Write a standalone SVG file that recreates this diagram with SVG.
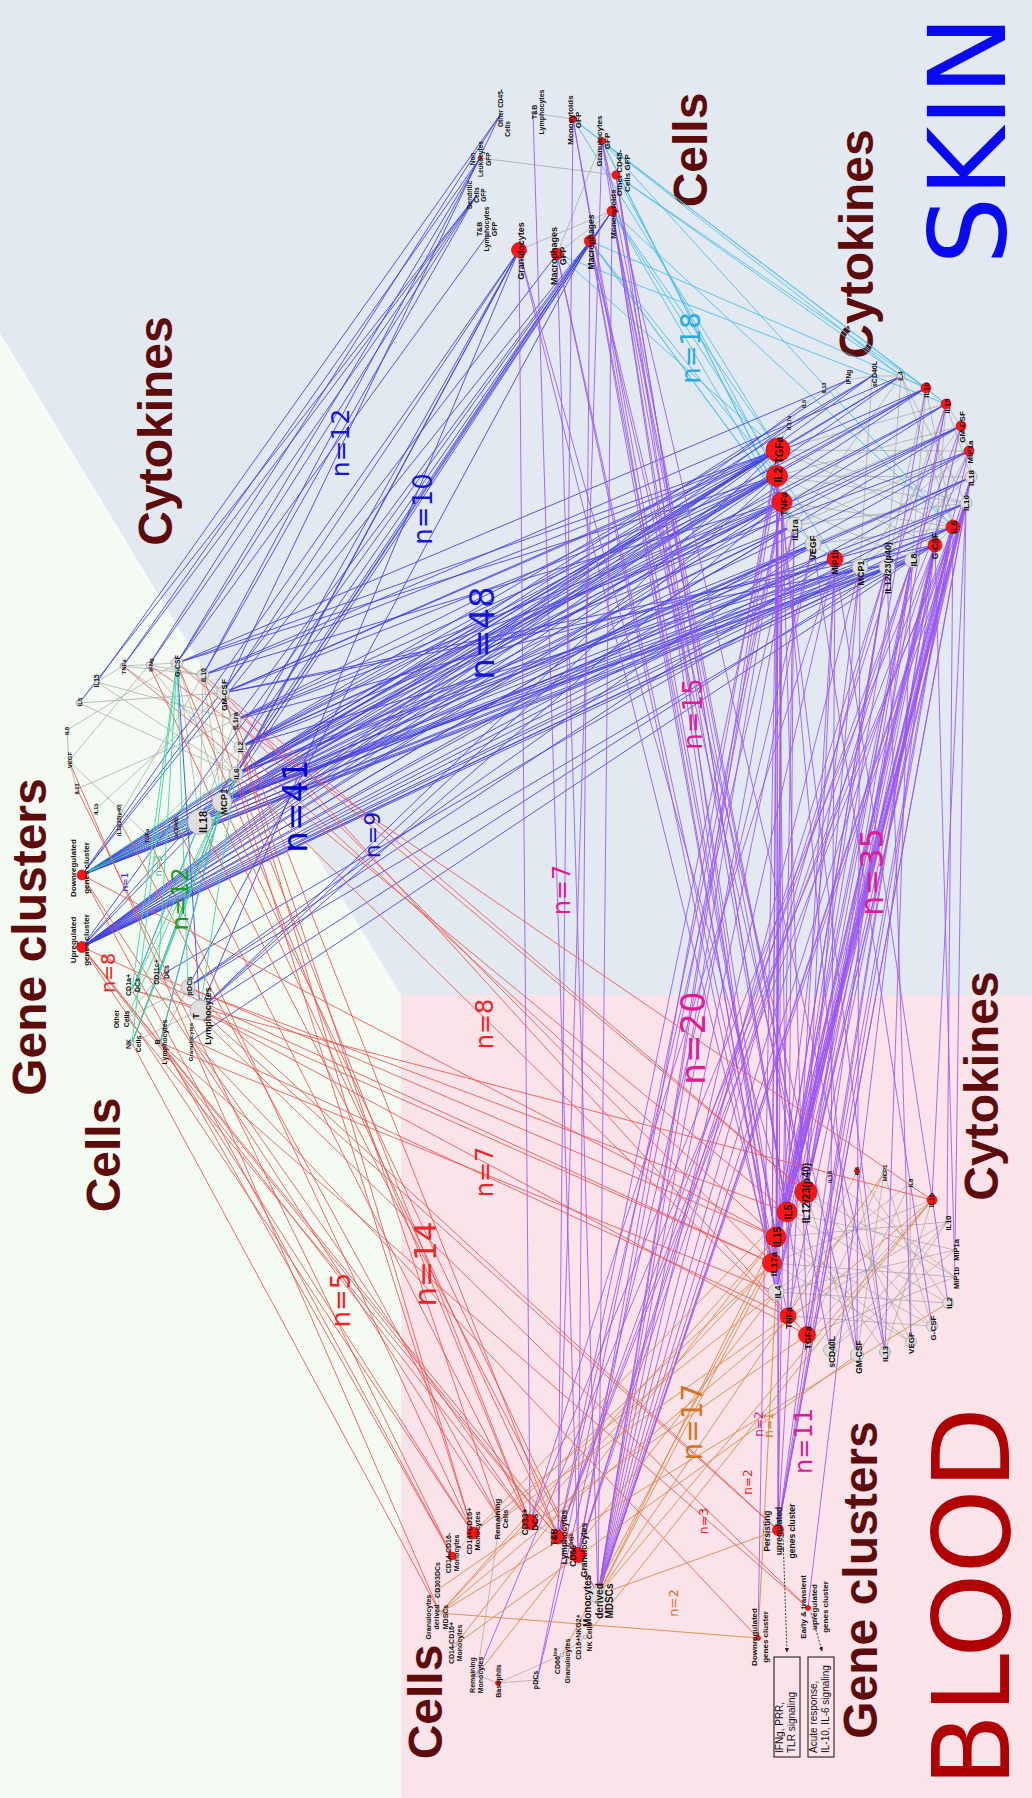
<svg xmlns="http://www.w3.org/2000/svg" width="1032" height="1798" viewBox="0 0 1032 1798">
<style>
.e{fill:none;stroke-width:1;stroke-linecap:round}
.bl{stroke:#4141e4;opacity:.88}
.cy{stroke:#4cc0ea;opacity:.9}
.pu{stroke:#9a55f2;opacity:.85}
.rd{stroke:#f0524e;opacity:.85}
.or{stroke:#d98b4a;opacity:.9}
.gr{stroke:#3fd8a0;opacity:.9}
.gy{stroke:#a6a6a6;stroke-width:.8;opacity:.9}
.rn{fill:#ff1515;stroke:#c00000;stroke-width:.6}
.gn{fill:#dedede;stroke:#999;stroke-width:.7}
text{font-family:"Liberation Sans",Arial,sans-serif}
.t{font-weight:bold;fill:#111;text-anchor:middle}
.ti{font-weight:bold;font-size:48px;fill:#5e0b0b;text-anchor:middle}
.n{font-family:"DejaVu Sans",Verdana,sans-serif;text-anchor:middle}
.nb{fill:#1414dc}.nm{fill:#e31a94}.nr{fill:#f02424}.no{fill:#d4741e}
.bx{fill:none;stroke:#333;stroke-width:1.2}
.bt{font-size:10px;fill:#111}
</style>
<defs>
<marker id="ah" viewBox="0 0 10 10" refX="9" refY="5" markerWidth="5" markerHeight="5" orient="auto"><path d="M0 0L10 5L0 10z" fill="#222"/></marker>
</defs>
<g id="background">
<rect width="1032" height="1798" fill="#f3fbf3"/>
<polygon points="0,0 1032,0 1032,995 401,995 0,333" fill="#e3e9f1"/>
<rect x="401" y="995" width="631" height="803" fill="#fbe3ea"/>
<line x1="0" y1="336" x2="399" y2="998" stroke="#fff" stroke-width="2" opacity=".6"/>
</g>
<g id="titles">
<text class="n" font-size="107" fill="#0a0af0" transform="translate(1005 140) rotate(-90)">SKIN</text>
<text class="n" font-size="107" fill="#b00000" transform="translate(1009 1597) rotate(-90)">BLOOD</text>
<text class="ti" transform="translate(707 150) rotate(-90)">Cells</text>
<text class="ti" transform="translate(873 244) rotate(-90)">Cytokines</text>
<text class="ti" transform="translate(172 431) rotate(-90)">Cytokines</text>
<text class="ti" transform="translate(46 937) rotate(-90)">Gene clusters</text>
<text class="ti" transform="translate(120 1155) rotate(-90)">Cells</text>
<text class="ti" transform="translate(998 1086) rotate(-90)">Cytokines</text>
<text class="ti" transform="translate(877 1580) rotate(-90)">Gene clusters</text>
<text class="ti" transform="translate(442 1702) rotate(-90)">Cells</text>
</g>
<g id="connectors">
<path class="e gy" d="M778 450L969 451M777 476L971 477M778 450L966 503M782 502L953 527M794 525L966 503M777 476L935 545M813 544L971 477M835 559L969 451M860 567L961 426M887 567L946 404M912 560L926 388M935 545L946 404M953 527L926 388M966 503L901 376M782 502L961 426M794 525L969 451M813 544L953 527M835 559L966 503M860 567L971 477M887 567L901 376M912 560L969 451M935 545L961 426M777 476L961 426M778 450L946 404M926 388L887 567M901 376L794 525M872 376L860 567M946 404L971 477M901 376L953 527M782 502L912 560M778 450L953 527M777 476L966 503M872 376L901 376L926 388L946 404L961 426L969 451L971 477L966 503L953 527L935 545L912 560L887 567L860 567L835 559L813 544L794 525L782 502M778 450L788 425L803 405L823 392L848 380L872 376"/>
<path class="e gy" d="M123 666L177 663M149 665L203 675M177 663L223 693M203 675L235 720M223 693L240 747M123 666L97 682M97 682L79 703M79 703L236 774M177 663L222 802M203 675L200 822M223 693L222 802M235 720L200 822M123 666L240 747M97 682L235 720M79 703L223 693M69 761L147 835M67 730L177 663M149 665L236 774M177 663L200 822M203 675L222 802M97 808L223 693M77 789L235 720M118 818L203 675M147 835L240 747M69 761L149 665M97 682L236 774M123 666L203 675M240 747L236 774L222 802L200 822M67 730L69 761L77 789"/>
<path class="e gy" d="M806 1192L932 1326M806 1192L955 1277M787 1212L948 1303M787 1212L955 1250M776 1237L947 1222M776 1237L932 1326M772 1263L955 1277M772 1263L911 1342M776 1292L955 1250M776 1292L948 1303M788 1316L947 1222M788 1316L932 1326M807 1335L932 1200M807 1335L955 1277M830 1350L910 1183M830 1350L955 1250M857 1355L884 1173M857 1355L947 1222M885 1352L857 1171M885 1352L932 1200M911 1342L829 1177M911 1342L910 1183M932 1326L884 1173M948 1303L857 1171M955 1277L829 1177M776 1237L911 1342M772 1263L932 1200M787 1212L885 1352M806 1192L857 1355M776 1292L910 1183M788 1316L857 1171M807 1335L884 1173M830 1350L947 1222"/>
<path class="e gy" d="M533 113L573 119M480 158L616 175M519 250L612 211M557 254L602 141M557 254L612 211M498 1683L477 1675M498 1683L537 1680M498 1683L562 1655M477 1675L500 1520M562 1655L585 1637M598 1595L578 1555M558 1537L530 1522M473 1533L452 1556M440 1613L437 1590M127 1018L188 987M132 990L200 1010M158 977L132 1043M160 1043L188 987M132 1043L200 1010M127 1018L158 977"/>
<path class="e cy" d="M573 119L901 376M573 119L926 388M573 119L778 450M602 141L953 527M602 141L946 404M602 141L782 502M616 175L926 388M616 175L901 376M616 175L777 476M612 211L953 527M612 211L778 450M612 211L794 525M612 211L835 559M590 241L782 502M590 241L777 476M590 241L813 544M557 254L778 450M602 141L794 525M557 254L946 404M590 241L926 388"/>
<path class="e bl" d="M222 802L778 450M222 802L777 476M222 802L782 502M222 802L794 525M222 802L813 544M222 802L835 559M222 802L860 567M222 802L887 567M222 802L912 560M222 802L935 545M222 802L953 527M222 802L971 477M236 774L778 450M236 774L777 476M236 774L782 502M236 774L813 544M236 774L835 559M236 774L926 388M236 774L961 426M236 774L946 404M236 774L966 503M236 774L901 376M240 747L778 450M240 747L777 476M240 747L782 502M240 747L794 525M240 747L961 426M240 747L926 388M240 747L872 376M240 747L860 567M235 720L778 450M235 720L777 476M235 720L782 502M235 720L969 451M235 720L953 527M223 693L778 450M223 693L777 476M223 693L926 388M223 693L935 545M223 693L912 560M203 675L778 450M203 675L782 502M203 675L901 376M177 663L778 450M177 663L777 476M177 663L848 380M200 822L778 450M200 822L777 476"/>
<path class="e bl" d="M82 875L778 450M82 875L777 476M82 875L782 502M82 875L794 525M82 875L813 544M82 875L835 559M82 875L860 567M82 875L887 567M82 875L912 560M82 875L935 545M82 875L953 527M82 875L966 503M82 875L971 477M82 875L969 451M82 875L961 426M82 875L946 404M82 875L926 388M82 875L901 376M82 875L872 376M82 875L848 380M82 947L778 450M82 947L777 476M82 947L782 502M82 947L794 525M82 947L813 544M82 947L835 559M82 947L860 567M82 947L887 567M82 947L912 560M82 947L935 545M82 947L953 527M82 947L966 503M82 947L971 477M82 947L969 451M82 947L961 426M82 947L946 404M82 947L926 388M82 947L901 376M82 947L872 376M82 947L803 405M82 947L788 425"/>
<path class="e bl" d="M177 663L480 158M177 663L476 196M149 665L500 115M123 666L480 158M203 675L476 196M97 682L500 115M79 703L476 196M177 663L489 233M149 665L476 196M203 675L480 158M223 693L500 115M123 666L476 196M236 774L519 250M240 747L519 250M222 802L519 250M235 720L590 241M236 774L590 241M240 747L612 211M222 802L612 211M223 693L519 250M200 822L590 241M236 774L612 211M82 875L519 250M82 875L590 241M82 947L612 211M82 875L557 254M200 1010L519 250M188 987L590 241M200 1010L778 450M200 1010L777 476M200 1010L782 502M200 1010L887 567M188 987L813 544M188 987L835 559M188 987L935 545M158 977L860 567M192 1040L912 560M132 1043L222 802M132 990L200 822M160 1043L222 802M200 1010L177 663M82 947L222 802M82 947L236 774M82 875L200 822"/>
<path class="e pu" d="M573 119L558 1537M533 113L578 1555M519 250L530 1522M557 254L598 1595M590 241L578 1555M612 211L598 1595M602 141L558 1537M590 241L772 1263M590 241L776 1237M612 211L806 1192M612 211L787 1212M557 254L776 1292M557 254L788 1316M573 119L776 1237M602 141L806 1192M616 175L807 1335M519 250L772 1263M519 250L787 1212M612 211L830 1350M590 241L857 1355M602 141L885 1352M616 175L776 1292M612 211L776 1237M590 241L806 1192M602 141L772 1263M616 175L787 1212M573 119L776 1292"/>
<path class="e pu" d="M953 527L806 1192M953 527L787 1212M953 527L776 1237M953 527L772 1263M953 527L788 1316M953 527L947 1222M935 545L806 1192M935 545L787 1212M935 545L776 1237M935 545L807 1335M935 545L955 1277M966 503L806 1192M966 503L776 1237M966 503L932 1200M966 503L955 1250M971 477L787 1212M971 477L772 1263M912 560L806 1192M912 560L776 1292M912 560L885 1352M887 567L787 1212M887 567L911 1342M860 567L776 1237M860 567L857 1355M835 559L830 1350M835 559L806 1192M835 559L948 1303M782 502L776 1292M782 502L857 1355M782 502L807 1335M777 476L772 1263M777 476L885 1352M794 525L788 1316M813 544L932 1326M946 404L806 1192M953 527L776 1292M953 527L807 1335M935 545L772 1263M935 545L776 1292M966 503L787 1212M966 503L772 1263M971 477L776 1237M971 477L806 1192M912 560L776 1237M887 567L776 1237M887 567L772 1263M860 567L806 1192M969 451L787 1212M961 426L776 1237M946 404L772 1263M926 388L787 1212M782 502L776 1237M777 476L788 1316M778 450L772 1263M778 450L776 1292"/>
<path class="e pu" d="M782 502L598 1595M782 502L537 1680M777 476L598 1595M777 476L558 1537M778 450L598 1595M778 450L578 1555M794 525L598 1595M813 544L598 1595M835 559L598 1595M835 559L530 1522M860 567L598 1595M887 567L578 1555M912 560L598 1595M935 545L558 1537M953 527L598 1595M966 503L477 1675M971 477L598 1595M969 451L530 1522M961 426L558 1537M946 404L578 1555M953 527L558 1537M935 545L598 1595M966 503L598 1595M912 560L578 1555M887 567L598 1595M782 502L578 1555M794 525L558 1537M813 544L537 1680M953 527L778 1530M935 545L778 1530M966 503L778 1530M971 477L778 1530M912 560L778 1530M835 559L778 1530M782 502L778 1530M777 476L778 1530M778 450L758 1638M935 545L808 1608M794 525L778 1530"/>
<path class="e rd" d="M236 774L788 1316M235 720L772 1263M240 747L776 1237M177 663L806 1192M149 665L932 1200M123 666L787 1212M203 675L806 1192M223 693L807 1335M200 1010L807 1335M200 1010L772 1263M188 987L776 1237M192 1040L788 1316M158 977L787 1212M160 1043L776 1292M132 990L932 1200M236 774L530 1522M240 747L473 1533M235 720L558 1537M222 802L578 1555M200 822L598 1595M177 827L530 1522M147 835L473 1533M118 818L500 1520M149 665L558 1537M177 663L530 1522M203 675L473 1533M223 693L500 1520M77 789L452 1556M69 761L440 1613M127 1018L558 1537M132 1043L440 1613M160 1043L473 1533M192 1040L530 1522M132 990L452 1556M82 947L473 1533M82 947L530 1522M82 947L558 1537M82 947L578 1555M82 875L452 1556M82 875L500 1520M82 947L772 1263M82 875L776 1237M200 1010L778 1530M188 987L778 1530M192 1040L758 1638M158 977L808 1608M160 1043L808 1608"/>
<path class="e or" d="M598 1595L772 1263M598 1595L776 1237M598 1595L932 1200M598 1595L884 1173M440 1613L772 1263M440 1613L776 1237M440 1613L948 1303M473 1533L787 1212M473 1533L776 1292M500 1520L772 1263M500 1520L788 1316M455 1645L776 1237M455 1645L857 1355M585 1637L932 1200M562 1655L806 1192M437 1590L807 1335M477 1675L776 1292M440 1613L932 1200M440 1613L758 1638M598 1595L778 1530M776 1292L758 1638"/>
<path class="e gr" d="M177 663L132 990M177 663L132 1043M177 663L188 987M177 663L158 977M222 802L132 990M222 802L132 1043M222 802L127 1018M222 802L160 1043M236 774L158 977M236 774L132 1043M236 774L200 1010M200 822L132 990M82 875L222 802M82 875L236 774M82 875L200 822"/>
<path fill="none" stroke="#222" stroke-width=".9" stroke-dasharray="2 1.5" marker-end="url(#ah)" d="M783 1536L787 1652"/>
<path fill="none" stroke="#222" stroke-width=".9" stroke-dasharray="2 1.5" marker-end="url(#ah)" d="M811 1613L822 1651"/>
</g>
<g id="edge-counts">
<text class="n" font-size="26" fill="#2aa8e0" transform="translate(700 348) rotate(-90)">n=18</text>
<text class="n nb" font-size="25" transform="translate(349 443) rotate(-90)">n=12</text>
<text class="n nb" font-size="26" transform="translate(432 509) rotate(-90)">n=10</text>
<text class="n nb" font-size="34" transform="translate(494 633) rotate(-90)">n=48</text>
<text class="n" font-size="34" fill="#0000d0" transform="translate(307 806) rotate(-90)">n=41</text>
<text class="n nb" font-size="22" transform="translate(380 835) rotate(-90)">n=9</text>
<text class="n nb" font-size="9" transform="translate(128 882) rotate(-90)">n=1</text>
<text class="n" font-size="10" fill="#3ccf6a" transform="translate(162 866) rotate(-90)">n=3</text>
<text class="n" font-size="23" fill="#1b9c1b" transform="translate(188 899) rotate(-90)">n=12</text>
<text class="n nr" font-size="19" transform="translate(115 973) rotate(-90)">n=8</text>
<text class="n nm" font-size="24" transform="translate(570 890) rotate(-90)">n=7</text>
<text class="n nm" font-size="26" transform="translate(702 714) rotate(-90)">n=15</text>
<text class="n nm" font-size="32" transform="translate(883 872) rotate(-90)">n=35</text>
<text class="n nm" font-size="34" transform="translate(705 1038) rotate(-90)">n=20</text>
<text class="n nr" font-size="24" transform="translate(493 1024) rotate(-90)">n=8</text>
<text class="n nr" font-size="24" transform="translate(493 1172) rotate(-90)">n=7</text>
<text class="n nr" font-size="31" transform="translate(436 1264) rotate(-90)">n=14</text>
<text class="n nr" font-size="26" transform="translate(350 1300) rotate(-90)">n=5</text>
<text class="n no" font-size="28" transform="translate(702 1422) rotate(-90)">n=17</text>
<text class="n nm" font-size="24" transform="translate(812 1441) rotate(-90)">n=11</text>
<text class="n nm" font-size="12" transform="translate(763 1424) rotate(-90)">n=2</text>
<text class="n no" font-size="12" transform="translate(773 1425) rotate(-90)">n=1</text>
<text class="n nr" font-size="12" transform="translate(752 1482) rotate(-90)">n=2</text>
<text class="n nr" font-size="12.5" transform="translate(708 1521) rotate(-90)">n=3</text>
<text class="n no" font-size="13" transform="translate(678 1603) rotate(-90)">n=2</text>
</g>
<g id="skin-cells">
<g id="s-tb"><circle class="gn" cx="533" cy="113" r="1.5"/><text class="t" font-size="7" transform="translate(537 112) rotate(-90)"><tspan x="0">T&amp;B</tspan><tspan x="0" dy="1.05em">Lymphocytes</tspan></text></g>
<g id="s-monogfp"><circle class="rn" cx="573" cy="119" r="3.5"/><text class="t" font-size="8" transform="translate(573 120) rotate(-90)"><tspan x="0">Monocytoids</tspan><tspan x="0" dy="1em">GFP</tspan></text></g>
<g id="s-grangfp"><circle class="rn" cx="602" cy="141" r="3.5"/><text class="t" font-size="8" transform="translate(602 141) rotate(-90)"><tspan x="0">Granulocytes</tspan><tspan x="0" dy="1em">GFP</tspan></text></g>
<g id="s-othergfp"><circle class="rn" cx="616" cy="175" r="4.2"/><text class="t" font-size="8" transform="translate(622 173) rotate(-90)"><tspan x="0">Other CD45-</tspan><tspan x="0" dy="1em">Cells GFP</tspan></text></g>
<g id="s-mono"><circle class="rn" cx="612" cy="211" r="5"/><text class="t" font-size="8" transform="translate(616 214) rotate(-90)">Monocytoids</text></g>
<g id="s-mac"><circle class="rn" cx="590" cy="241" r="5.7"/><text class="t" font-size="8.5" transform="translate(594 242) rotate(-90)">Macrophages</text></g>
<g id="s-macgfp"><circle class="rn" cx="557" cy="254" r="5.8"/><text class="t" font-size="9" transform="translate(557 256) rotate(-90)"><tspan x="0">Macrophages</tspan><tspan x="0" dy="0.95em">GFP</tspan></text></g>
<g id="s-gran"><circle class="rn" cx="519" cy="250" r="7.5"/><text class="t" font-size="9" transform="translate(524 251) rotate(-90)">Granulocytes</text></g>
<g id="s-tbgfp"><text class="t" font-size="7" transform="translate(482 229) rotate(-90)"><tspan x="0">T&amp;B</tspan><tspan x="0" dy="1.05em">Lymphocytes</tspan><tspan x="0" dy="1.05em">GFP</tspan></text></g>
<g id="s-dcgfp"><text class="t" font-size="6.5" transform="translate(472 195) rotate(-90)"><tspan x="0">Dendritic</tspan><tspan x="0" dy="1.05em">Cells</tspan><tspan x="0" dy="1.1em">GFP</tspan></text></g>
<g id="s-nonleuk"><circle class="rn" cx="480" cy="158" r="2"/><text class="t" font-size="6.5" transform="translate(475 159) rotate(-90)"><tspan x="0">Non</tspan><tspan x="0" dy="1.2em">Leukocytes</tspan><tspan x="0" dy="1.2em">GFP</tspan></text></g>
<g id="s-other"><text class="t" font-size="6.5" transform="translate(503 108) rotate(-90)">Other CD45-</text><text class="t" font-size="6.5" transform="translate(510 129) rotate(-90)">Cells</text></g>
</g>
<g id="skin-cytokines">
<g id="k-il4"><circle class="gn" cx="901" cy="376" r="4"/><text class="t" font-size="6.5" transform="translate(903 376) rotate(-90)">IL4</text></g>
<g id="k-scd40l"><text class="t" font-size="7" transform="translate(877 374) rotate(-90)">sCD40L</text></g>
<g id="k-ifng"><text class="t" font-size="6.5" transform="translate(851 377) rotate(-90)">IFNg</text></g>
<g id="k-il13"><text class="t" font-size="5.5" transform="translate(826 388) rotate(-90)">IL13</text></g>
<g id="k-il5"><text class="t" font-size="5.5" transform="translate(806 404) rotate(-90)">IL5</text></g>
<g id="k-il17a"><text class="t" font-size="5.5" transform="translate(791 423) rotate(-90)">IL17a</text></g>
<g id="k-tgfa"><circle class="rn" cx="778" cy="450" r="12"/><text class="t" font-size="10.5" transform="translate(783 450) rotate(-90)">TGFa</text></g>
<g id="k-il2"><circle class="rn" cx="777" cy="476" r="10.5"/><text class="t" font-size="10.5" transform="translate(782 475) rotate(-90)">IL2</text></g>
<g id="k-tnfa"><circle class="rn" cx="782" cy="502" r="10"/><text class="t" font-size="9.5" transform="translate(787 504) rotate(-90)">TNFa</text></g>
<g id="k-il1ra"><circle class="gn" cx="794" cy="525" r="8"/><text class="t" font-size="9" transform="translate(798 530) rotate(-90)">IL1ra</text></g>
<g id="k-vegf"><circle class="gn" cx="813" cy="544" r="8"/><text class="t" font-size="9" transform="translate(816 548) rotate(-90)">VEGF</text></g>
<g id="k-mip1b"><circle class="rn" cx="835" cy="559" r="8"/><text class="t" font-size="8.5" transform="translate(838 562) rotate(-90)">MIP1b</text></g>
<g id="k-mcp1"><circle class="gn" cx="860" cy="567" r="8"/><text class="t" font-size="9" transform="translate(864 573) rotate(-90)">MCP1</text></g>
<g id="k-il12"><circle class="gn" cx="887" cy="567" r="8"/><text class="t" font-size="9" transform="translate(891 568) rotate(-90)">IL12/23(p40)</text></g>
<g id="k-il8"><circle class="gn" cx="912" cy="560" r="7.5"/><text class="t" font-size="9" transform="translate(917 560) rotate(-90)">IL8</text></g>
<g id="k-gcsf"><circle class="rn" cx="935" cy="545" r="7"/><text class="t" font-size="8.5" transform="translate(938 546) rotate(-90)">G-CSF</text></g>
<g id="k-il6"><circle class="rn" cx="953" cy="527" r="7"/><text class="t" font-size="8.5" transform="translate(957 527) rotate(-90)">IL6</text></g>
<g id="k-il10"><circle class="gn" cx="966" cy="503" r="6"/><text class="t" font-size="8" transform="translate(969 503) rotate(-90)">IL10</text></g>
<g id="k-il18"><circle class="gn" cx="971" cy="477" r="6"/><text class="t" font-size="8" transform="translate(974 478) rotate(-90)">IL18</text></g>
<g id="k-mip1a"><circle class="rn" cx="969" cy="451" r="5"/><text class="t" font-size="8" transform="translate(973 452) rotate(-90)">MIP1a</text></g>
<g id="k-gmcsf"><circle class="rn" cx="961" cy="426" r="5"/><text class="t" font-size="8" transform="translate(965 427) rotate(-90)">GM-CSF</text></g>
<g id="k-il15"><circle class="rn" cx="946" cy="404" r="5"/><text class="t" font-size="7.5" transform="translate(950 406) rotate(-90)">IL15</text></g>
<g id="k-il1b"><circle class="rn" cx="926" cy="388" r="5"/><text class="t" font-size="7.5" transform="translate(929 390) rotate(-90)">IL1b</text></g>
</g>
<g id="left-cytokines">
<g id="l-tnfa"><circle class="gn" cx="123" cy="666" r="3"/><text class="t" font-size="6" transform="translate(126 667) rotate(-90)">TNFa</text></g>
<g id="l-ifng"><circle class="gn" cx="149" cy="665" r="3"/><text class="t" font-size="6" transform="translate(152.7 665) rotate(-90)">IFNg</text></g>
<g id="l-gcsf"><circle class="gn" cx="177" cy="663" r="6"/><text class="t" font-size="7" transform="translate(179.5 666) rotate(-90)">G-CSF</text></g>
<g id="l-il10"><circle class="gn" cx="203" cy="675" r="6"/><text class="t" font-size="7" transform="translate(206 675) rotate(-90)">IL10</text></g>
<g id="l-gmcsf"><circle class="gn" cx="223" cy="693" r="6.5"/><text class="t" font-size="8" transform="translate(227 695) rotate(-90)">GM-CSF</text></g>
<g id="l-il1ra"><circle class="gn" cx="235" cy="720" r="6"/><text class="t" font-size="7.5" transform="translate(237.5 721) rotate(-90)">IL1ra</text></g>
<g id="l-il2"><circle class="gn" cx="240" cy="747" r="6"/><text class="t" font-size="7.5" transform="translate(243 747) rotate(-90)">IL2</text></g>
<g id="l-il6"><circle class="gn" cx="236" cy="774" r="7"/><text class="t" font-size="8" transform="translate(239 774) rotate(-90)">IL6</text></g>
<g id="l-mcp1"><circle class="gn" cx="222" cy="802" r="10"/><text class="t" font-size="9.5" transform="translate(226.7 801.7) rotate(-90)">MCP1</text></g>
<g id="l-il18"><circle class="gn" cx="200" cy="822" r="12.5"/><text class="t" font-size="11" transform="translate(206.7 822) rotate(-90)">IL18</text></g>
<g id="l-scd40l"><text class="t" font-size="5.5" transform="translate(178.3 826.7) rotate(-90)">sCD40L</text></g>
<g id="l-tgfa"><text class="t" font-size="5.5" transform="translate(149.3 836) rotate(-90)">TGFa</text></g>
<g id="l-il12"><text class="t" font-size="5.5" transform="translate(120.7 820) rotate(-90)">IL12/23(p40)</text></g>
<g id="l-il1b"><text class="t" font-size="5.5" transform="translate(98.3 809) rotate(-90)">IL1b</text></g>
<g id="l-il13"><text class="t" font-size="5.5" transform="translate(79 789) rotate(-90)">IL13</text></g>
<g id="l-vegf"><text class="t" font-size="6" transform="translate(71.7 760) rotate(-90)">VEGF</text></g>
<g id="l-il8"><text class="t" font-size="5.5" transform="translate(69.3 731) rotate(-90)">IL8</text></g>
<g id="l-il5"><circle class="gn" cx="79" cy="703" r="3"/><text class="t" font-size="6" transform="translate(81.7 702) rotate(-90)">IL5</text></g>
<g id="l-il15"><circle class="gn" cx="97" cy="682" r="3"/><text class="t" font-size="6.5" transform="translate(99.3 681) rotate(-90)">IL15</text></g>
</g>
<g id="left-gene-clusters">
<g id="g-down"><circle class="rn" cx="82" cy="875" r="5"/><text class="t" font-size="8" transform="translate(76 868) rotate(-90)"><tspan x="0">Downregulated</tspan><tspan x="0" dy="1.66em">genes cluster</tspan></text></g>
<g id="g-up"><circle class="rn" cx="82" cy="947" r="5.5"/><text class="t" font-size="8" transform="translate(76 940) rotate(-90)"><tspan x="0">Upregulated</tspan><tspan x="0" dy="1.66em">genes cluster</tspan></text></g>
</g>
<g id="left-cells">
<g id="c-other"><circle class="gn" cx="127" cy="1018" r="2"/><text class="t" font-size="7" transform="translate(119.3 1019) rotate(-90)"><tspan x="0">Other</tspan><tspan x="0" dy="1.4em">Cells</tspan></text></g>
<g id="c-cd1a"><circle class="gn" cx="132" cy="990" r="2.5"/><text class="t" font-size="7" transform="translate(130.7 985) rotate(-90)"><tspan x="0">CD1a+</tspan><tspan x="0" dy="1.33em">DCs</tspan></text></g>
<g id="c-cd11c"><circle class="gn" cx="158" cy="977" r="3"/><text class="t" font-size="7" transform="translate(159 972) rotate(-90)"><tspan x="0">CD11c+</tspan><tspan x="0" dy="1.45em">DCs</tspan></text></g>
<g id="c-pdc"><circle class="gn" cx="188" cy="987" r="7"/><text class="t" font-size="7.5" transform="translate(191.7 986) rotate(-90)">pDCs</text></g>
<g id="c-t"><circle class="gn" cx="200" cy="1010" r="10"/><text class="t" font-size="9" transform="translate(199 1016) rotate(-90)"><tspan x="0">T</tspan><tspan x="0" dy="1.3em">Lymphocytes</tspan></text></g>
<g id="c-gran"><circle class="gn" cx="192" cy="1040" r="2"/><text class="t" font-size="6" transform="translate(192.7 1042) rotate(-90)">Granulocytes</text></g>
<g id="c-b"><circle class="gn" cx="160" cy="1043" r="2"/><text class="t" font-size="7" transform="translate(160 1042) rotate(-90)"><tspan x="0">B</tspan><tspan x="0" dy="1em">Lymphocytes</tspan></text></g>
<g id="c-nk"><circle class="gn" cx="132" cy="1043" r="2"/><text class="t" font-size="7" transform="translate(130.7 1044) rotate(-90)"><tspan x="0">NK</tspan><tspan x="0" dy="1.43em">Cells</tspan></text></g>
</g>
<g id="blood-cytokines">
<g id="b-il12"><circle class="rn" cx="806" cy="1192" r="11"/><text class="t" font-size="10.5" transform="translate(810 1193) rotate(-90)">IL12/23(p40)</text></g>
<g id="b-il5"><circle class="rn" cx="787" cy="1212" r="10"/><text class="t" font-size="10" transform="translate(791.7 1212) rotate(-90)">IL5</text></g>
<g id="b-il15"><circle class="rn" cx="776" cy="1237" r="10"/><text class="t" font-size="10" transform="translate(780.7 1237) rotate(-90)">IL15</text></g>
<g id="b-il17a"><circle class="rn" cx="772" cy="1263" r="9.5"/><text class="t" font-size="9.5" transform="translate(776.7 1264) rotate(-90)">IL17a</text></g>
<g id="b-il4"><circle class="gn" cx="776" cy="1292" r="8"/><text class="t" font-size="9" transform="translate(780.7 1292) rotate(-90)">IL4</text></g>
<g id="b-tnfa"><circle class="rn" cx="788" cy="1316" r="8"/><text class="t" font-size="8.5" transform="translate(791.7 1318) rotate(-90)">TNFa</text></g>
<g id="b-tgfa"><circle class="rn" cx="807" cy="1335" r="8.5"/><text class="t" font-size="9" transform="translate(810.7 1338) rotate(-90)">TGFa</text></g>
<g id="b-scd40l"><circle class="gn" cx="830" cy="1350" r="6.5"/><text class="t" font-size="8.5" transform="translate(835 1352) rotate(-90)">sCD40L</text></g>
<g id="b-gmcsf"><circle class="gn" cx="857" cy="1355" r="6.5"/><text class="t" font-size="8.5" transform="translate(861.7 1357) rotate(-90)">GM-CSF</text></g>
<g id="b-il13"><circle class="gn" cx="885" cy="1352" r="5.5"/><text class="t" font-size="8" transform="translate(888 1354) rotate(-90)">IL13</text></g>
<g id="b-vegf"><circle class="gn" cx="911" cy="1342" r="5.5"/><text class="t" font-size="8" transform="translate(914 1343) rotate(-90)">VEGF</text></g>
<g id="b-gcsf"><circle class="gn" cx="932" cy="1326" r="5.5"/><text class="t" font-size="8" transform="translate(936 1328) rotate(-90)">G-CSF</text></g>
<g id="b-il2"><circle class="gn" cx="948" cy="1303" r="5.5"/><text class="t" font-size="8" transform="translate(951.7 1303) rotate(-90)">IL2</text></g>
<g id="b-mip1b"><circle class="gn" cx="955" cy="1277" r="2"/><text class="t" font-size="7.5" transform="translate(959.3 1278) rotate(-90)">MIP1b</text></g>
<g id="b-mip1a"><circle class="gn" cx="955" cy="1250" r="2"/><text class="t" font-size="7.5" transform="translate(959.3 1250) rotate(-90)">MIP1a</text></g>
<g id="b-il10"><circle class="gn" cx="947" cy="1222" r="2"/><text class="t" font-size="7.5" transform="translate(950.7 1223) rotate(-90)">IL10</text></g>
<g id="b-il1b"><circle class="rn" cx="932" cy="1200" r="5"/><text class="t" font-size="7" transform="translate(934 1200) rotate(-90)">IL1b</text></g>
<g id="b-il8"><circle class="gn" cx="910" cy="1183" r="2"/><text class="t" font-size="6" transform="translate(912.7 1183) rotate(-90)">IL8</text></g>
<g id="b-mcp1"><circle class="gn" cx="884" cy="1173" r="2"/><text class="t" font-size="6" transform="translate(886.7 1173) rotate(-90)">MCP1</text></g>
<g id="b-il6"><circle class="rn" cx="857" cy="1171" r="2.5"/><text class="t" font-size="6" transform="translate(859.3 1171) rotate(-90)">IL6</text></g>
<g id="b-il18"><circle class="gn" cx="829" cy="1177" r="2"/><text class="t" font-size="6" transform="translate(831.7 1177) rotate(-90)">IL18</text></g>
</g>
<g id="blood-cells">
<g id="d-rem"><circle class="gn" cx="500" cy="1520" r="2"/><text class="t" font-size="8" transform="translate(500 1519) rotate(-90)"><tspan x="0">Remaining</tspan><tspan x="0" dy="1.04em">Cells</tspan></text></g>
<g id="d-cd33"><circle class="rn" cx="530" cy="1522" r="7.5"/><text class="t" font-size="8.5" transform="translate(528.3 1522) rotate(-90)"><tspan x="0">CD33+</tspan><tspan x="0" dy="1.1em">DCs</tspan></text></g>
<g id="d-tb"><circle class="rn" cx="558" cy="1537" r="7"/><text class="t" font-size="8.5" transform="translate(557 1537) rotate(-90)"><tspan x="0">T&amp;B</tspan><tspan x="0" dy="1.14em">Lymphocytes</tspan></text></g>
<g id="d-66high"><circle class="rn" cx="578" cy="1555" r="7.5"/><text class="t" font-size="8.5" transform="translate(576 1550) rotate(-90)"><tspan x="0">CD66</tspan><tspan font-size="5.5" dy="-3">high</tspan><tspan x="0" dy="1.6em">Granulocytes</tspan></text></g>
<g id="d-mmdsc"><circle class="gn" cx="598" cy="1595" r="8.5"/><text class="t" font-size="10" transform="translate(590.7 1601) rotate(-90)"><tspan x="0">Monocytes</tspan><tspan x="0" dy="1.26em">derived</tspan><tspan x="0" dy="1.0em">MDSCs</tspan></text></g>
<g id="d-nk"><circle class="gn" cx="585" cy="1637" r="2"/><text class="t" font-size="7" transform="translate(580.7 1637) rotate(-90)"><tspan x="0">CD16+NKG2+</tspan><tspan x="0" dy="1.57em">NK Cells</tspan></text></g>
<g id="d-66low"><circle class="gn" cx="562" cy="1655" r="2"/><text class="t" font-size="7" transform="translate(560 1661) rotate(-90)"><tspan x="0">CD66</tspan><tspan font-size="5" dy="-3">low</tspan><tspan x="0" dy="1.85em">Granulocytes</tspan></text></g>
<g id="d-pdc"><circle class="gn" cx="537" cy="1680" r="2"/><text class="t" font-size="7" transform="translate(538.3 1680) rotate(-90)">pDCs</text></g>
<g id="d-baso"><circle class="rn" cx="498" cy="1683" r="2.5"/><text class="t" font-size="7" transform="translate(501 1681) rotate(-90)">Basophils</text></g>
<g id="d-remmono"><circle class="gn" cx="477" cy="1675" r="2"/><text class="t" font-size="7" transform="translate(475 1675) rotate(-90)"><tspan x="0">Remaining</tspan><tspan x="0" dy="1.19em">Monocytes</tspan></text></g>
<g id="d-14n16p"><circle class="gn" cx="455" cy="1645" r="2"/><text class="t" font-size="7" transform="translate(454.3 1643) rotate(-90)"><tspan x="0">CD14-CD16+</tspan><tspan x="0" dy="1.05em">Monocytes</tspan></text></g>
<g id="d-gmdsc"><circle class="gn" cx="440" cy="1613" r="2"/><text class="t" font-size="7" transform="translate(430.7 1617) rotate(-90)"><tspan x="0">Granulocytes</tspan><tspan x="0" dy="1.23em">derived</tspan><tspan x="0" dy="1.29em">MDSCs</tspan></text></g>
<g id="d-cd303"><circle class="gn" cx="437" cy="1590" r="1.5"/><text class="t" font-size="7" transform="translate(440 1580) rotate(-90)">CD303DCs</text></g>
<g id="d-1416n"><circle class="rn" cx="452" cy="1556" r="4"/><text class="t" font-size="7" transform="translate(450.7 1553) rotate(-90)"><tspan x="0">CD14-CD16-</tspan><tspan x="0" dy="1.23em">Monocytes</tspan></text></g>
<g id="d-1416p"><circle class="rn" cx="473" cy="1533" r="6"/><text class="t" font-size="7.5" transform="translate(471.7 1531) rotate(-90)"><tspan x="0">CD14+CD16+</tspan><tspan x="0" dy="1.1em">Monocytes</tspan></text></g>
</g>
<g id="blood-gene-clusters">
<g id="e-pers"><circle class="rn" cx="778" cy="1530" r="5.5"/><text class="t" font-size="8.5" transform="translate(770 1531) rotate(-90)"><tspan x="0">Persisting</tspan><tspan x="0" dy="1.45em">upregulated</tspan><tspan x="0" dy="1.45em">genes cluster</tspan></text></g>
<g id="e-down"><circle class="rn" cx="758" cy="1638" r="2.5"/><text class="t" font-size="8" transform="translate(756.7 1637) rotate(-90)"><tspan x="0">Downregulated</tspan><tspan x="0" dy="1.45em">genes cluster</tspan></text></g>
<g id="e-early"><circle class="rn" cx="808" cy="1608" r="2.5"/><text class="t" font-size="8" transform="translate(806 1607) rotate(-90)"><tspan x="0">Early &amp; transient</tspan><tspan x="0" dy="1.35em">upregulated</tspan><tspan x="0" dy="1.4em">genes cluster</tspan></text></g>
<g id="box-ifng"><rect class="bx" x="774" y="1657" width="26" height="100"/><text class="bt" transform="translate(783.3 1753) rotate(-90)"><tspan x="0">IFNg, PRR,</tspan><tspan x="0" dy="1.2em">TLR signaling</tspan></text></g>
<g id="box-acute"><rect class="bx" x="808" y="1657" width="26" height="100"/><text class="bt" transform="translate(816.7 1753) rotate(-90)"><tspan x="0">Acute response,</tspan><tspan x="0" dy="1.2em">IL-10, IL-6 signaling</tspan></text></g>
</g>
</svg>
